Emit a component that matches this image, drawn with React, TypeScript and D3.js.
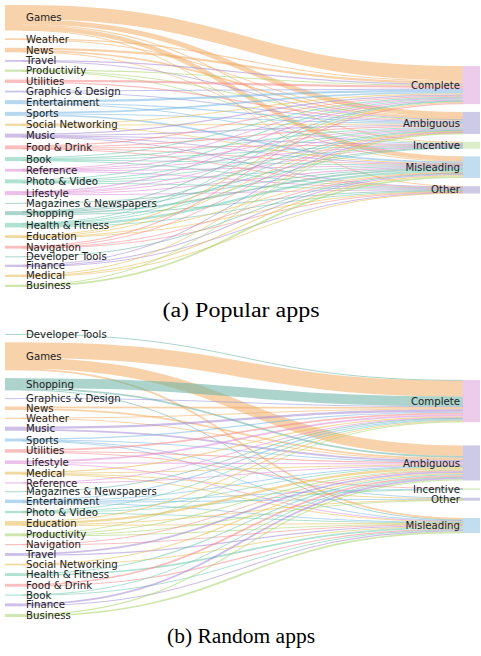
import React, { useEffect, useRef } from "react";
import * as d3 from "d3";

// targets (right column), in the order they appear in each panel
const targetsA = ["Complete", "Ambiguous", "Incentive", "Misleading", "Other"];
const targetsB = ["Complete", "Ambiguous", "Incentive", "Other", "Misleading"];

// (a) popular apps: categories top to bottom
const categoriesA = [
  "Games", "Weather", "News", "Travel", "Productivity", "Utilities",
  "Graphics & Design", "Entertainment", "Sports", "Social Networking", "Music",
  "Food & Drink", "Book", "Reference", "Photo & Video", "Lifestyle",
  "Magazines & Newspapers", "Shopping", "Health & Fitness", "Education",
  "Navigation", "Developer Tools", "Finance", "Medical", "Business",
];
// apps per category -> [Complete, Ambiguous, Incentive, Misleading, Other]
const valuesA = [
  [25, 9, 2, 8, 1],
  [2, 1, 0, 0, 0],
  [4, 3, 0, 1, 0],
  [2, 1, 0, 0, 0],
  [2, 1, 1, 0, 0],
  [4, 2, 0, 0, 0],
  [2, 1, 0, 0, 0],
  [4, 2, 1, 0, 0],
  [3, 1, 0, 3, 0],
  [2, 1, 0, 1, 0],
  [2, 2, 1, 1, 1],
  [2, 2, 1, 1, 1],
  [2, 2, 1, 1, 1],
  [1, 1, 1, 1, 1],
  [2, 2, 1, 1, 1],
  [2, 1, 1, 2, 1],
  [0, 0, 0, 1, 0],
  [1, 1, 1, 3, 1],
  [1, 1, 1, 4, 1],
  [2, 1, 0, 1, 1],
  [2, 1, 0, 1, 1],
  [0, 0, 0, 1, 0],
  [0, 1, 0, 2, 1],
  [0, 1, 0, 2, 1],
  [0, 1, 0, 3, 0],
];

// (b) random apps
const categoriesB = [
  "Developer Tools", "Games", "Shopping", "Graphics & Design", "News", "Weather",
  "Music", "Sports", "Utilities", "Lifestyle", "Medical", "Reference",
  "Magazines & Newspapers", "Entertainment", "Photo & Video", "Education",
  "Productivity", "Navigation", "Travel", "Social Networking", "Health & Fitness",
  "Food & Drink", "Book", "Finance", "Business",
];
// apps per category -> [Complete, Ambiguous, Incentive, Other, Misleading]
const valuesB = [
  [1, 0, 0, 0, 0],
  [27, 18, 0, 0, 3],
  [17, 3, 0, 0, 1],
  [1, 0, 0, 0, 0],
  [3, 3, 0, 0, 0],
  [1, 1, 0, 0, 0],
  [4, 3, 0, 0, 0],
  [2, 1, 0, 1, 1],
  [3, 2, 1, 0, 0],
  [3, 2, 0, 0, 1],
  [2, 1, 0, 1, 1],
  [1, 1, 0, 0, 0],
  [1, 0, 0, 0, 0],
  [2, 1, 1, 1, 1],
  [1, 1, 1, 0, 1],
  [2, 4, 0, 1, 1],
  [1, 2, 0, 1, 1],
  [0, 1, 0, 0, 1],
  [0, 3, 0, 0, 2],
  [0, 2, 0, 0, 1],
  [0, 2, 0, 0, 3],
  [0, 3, 0, 0, 2],
  [0, 1, 0, 0, 1],
  [0, 3, 0, 0, 2],
  [0, 2, 0, 0, 3],
];

const captions = ["(a) Popular apps", "(b) Random apps"];

const orange = "#f0ad66", purple = "#a58ad2", lilac = "#9494da", green = "#a8d46e",
  red = "#f48a8a", blue = "#78b6e2", gold = "#e6bb55", teal = "#70c8ad",
  pink = "#da8ad6", sea = "#68b0a2";

const categoryColor: Record<string, string> = {
  "Games": orange, "Weather": orange, "News": orange,
  "Travel": purple, "Music": purple, "Finance": purple, "Graphics & Design": lilac,
  "Productivity": green, "Business": green,
  "Utilities": red, "Food & Drink": red, "Navigation": red,
  "Entertainment": blue, "Sports": blue,
  "Social Networking": gold, "Education": gold, "Medical": gold,
  "Book": teal, "Photo & Video": teal, "Health & Fitness": teal,
  "Reference": pink, "Lifestyle": pink,
  "Magazines & Newspapers": sea, "Shopping": sea, "Developer Tools": sea,
};

const targetColor: Record<string, string> = {
  Complete: "#ecccea",
  Ambiguous: "#cdcae8",
  Incentive: "#dcedc9",
  Misleading: "#c3ddf0",
  Other: "#cdcae8",
};

const W = 481;
const H = 656;
const nodeX0 = 5, nodeX1 = 22;
const tgtX0 = 463, tgtX1 = 480;
const nodePad = 7.75;

function layout(cats: string[], tgts: string[], vals: number[][], top: number, bottom: number) {
  const totals = vals.map(r => d3.sum(r));
  const total = d3.sum(totals);
  const ky = d3.scaleLinear().domain([0, total]).range([0, bottom - top - (cats.length - 1) * nodePad]);

  let y = top;
  const left = cats.map((name, i) => {
    const n = { name, y0: y, y1: y + ky(totals[i]) };
    y = n.y1 + nodePad;
    return n;
  });

  // target nodes sit at the weighted centre of their sources
  const right = tgts.map((name, j) => {
    const col = vals.map(r => r[j]);
    const sum = d3.sum(col);
    const c = d3.sum(col, (v, i) => v * (left[i].y0 + left[i].y1) / 2) / sum;
    const h = ky(sum);
    return { name, y0: c - h / 2, y1: c + h / 2 };
  });
  let yy = top;
  right.forEach(n => {
    const dy = yy - n.y0;
    if (dy > 0) { n.y0 += dy; n.y1 += dy; }
    yy = n.y1 + nodePad;
  });
  yy = bottom;
  for (let j = right.length - 1; j >= 0; j--) {
    const n = right[j];
    const dy = n.y1 - yy;
    if (dy > 0) { n.y0 -= dy; n.y1 -= dy; }
    yy = n.y0 - nodePad;
  }

  const links: { src: string; w: number; ys: number; yt: number }[] = [];
  const srcOff = left.map(n => n.y0);
  const tgtOff = right.map(n => n.y0);
  const grid: any[][] = vals.map(() => []);
  vals.forEach((r, i) => r.forEach((v, j) => {
    if (!v) return;
    const w = ky(v);
    const l = { src: cats[i], w, ys: srcOff[i] + w / 2, yt: 0 };
    srcOff[i] += w;
    grid[i][j] = l;
    links.push(l);
  }));
  tgts.forEach((_, j) => vals.forEach((r, i) => {
    const l = grid[i][j];
    if (!l) return;
    l.yt = tgtOff[j] + l.w / 2;
    tgtOff[j] += l.w;
  }));

  return { left, right, links };
}

const App = () => {
  const svgRef = useRef<SVGSVGElement>(null);

  useEffect(() => {
    const svg = d3.select(svgRef.current);
    svg.selectAll("*").remove();

    const panels = [
      { cats: categoriesA, tgts: targetsA, vals: valuesA, top: 5, bottom: 287, capY: 317 },
      { cats: categoriesB, tgts: targetsB, vals: valuesB, top: 334, bottom: 617, capY: 643 },
    ];

    const linkGen = d3.linkHorizontal<any, [number, number]>()
      .source((d: any) => [nodeX1, d.ys])
      .target((d: any) => [tgtX0, d.yt]);

    panels.forEach((p, k) => {
      const { left, right, links } = layout(p.cats, p.tgts, p.vals, p.top, p.bottom);
      const g = svg.append("g");

      g.append("g")
        .selectAll("path")
        .data(links)
        .enter()
        .append("path")
        .attr("d", d => linkGen(d as any) as string)
        .attr("fill", "none")
        .attr("stroke", d => categoryColor[d.src])
        .attr("stroke-opacity", 0.55)
        .attr("stroke-width", d => Math.max(1, d.w));

      g.append("g")
        .selectAll("rect")
        .data(left)
        .enter()
        .append("rect")
        .attr("x", nodeX0)
        .attr("y", d => d.y0)
        .attr("width", nodeX1 - nodeX0)
        .attr("height", d => Math.max(1, d.y1 - d.y0))
        .attr("fill", d => categoryColor[d.name])
        .attr("fill-opacity", 0.55);

      g.append("g")
        .selectAll("rect")
        .data(right)
        .enter()
        .append("rect")
        .attr("x", tgtX0)
        .attr("y", d => d.y0)
        .attr("width", tgtX1 - tgtX0)
        .attr("height", d => d.y1 - d.y0)
        .attr("fill", d => targetColor[d.name]);

      g.append("g")
        .selectAll("text")
        .data(left)
        .enter()
        .append("text")
        .attr("x", nodeX1 + 4)
        .attr("y", d => (d.y0 + d.y1) / 2)
        .attr("dy", "0.35em")
        .style("font-family", "DejaVu Sans, sans-serif")
        .style("font-size", "10.2px")
        .attr("fill", "#1e1e1e")
        .text(d => d.name);

      g.append("g")
        .selectAll("text")
        .data(right)
        .enter()
        .append("text")
        .attr("x", tgtX0 - 3)
        .attr("y", d => (d.y0 + d.y1) / 2)
        .attr("dy", "0.35em")
        .attr("text-anchor", "end")
        .style("font-family", "DejaVu Sans, sans-serif")
        .style("font-size", "10.2px")
        .attr("fill", "#1e1e1e")
        .text(d => d.name);

      svg.append("text")
        .attr("x", 241)
        .attr("y", p.capY)
        .attr("text-anchor", "middle")
        .attr("textLength", k === 0 ? 157 : 148)
        .attr("lengthAdjust", "spacingAndGlyphs")
        .style("font-family", "Liberation Serif, Times New Roman, serif")
        .style("font-size", "20px")
        .attr("fill", "#000")
        .text(captions[k]);
    });
  }, []);

  return (
    <svg
      ref={svgRef}
      width={W}
      height={H}
      style={{ position: "absolute", left: 0, top: 0, background: "#fff" }}
    />
  );
};

export default App;
